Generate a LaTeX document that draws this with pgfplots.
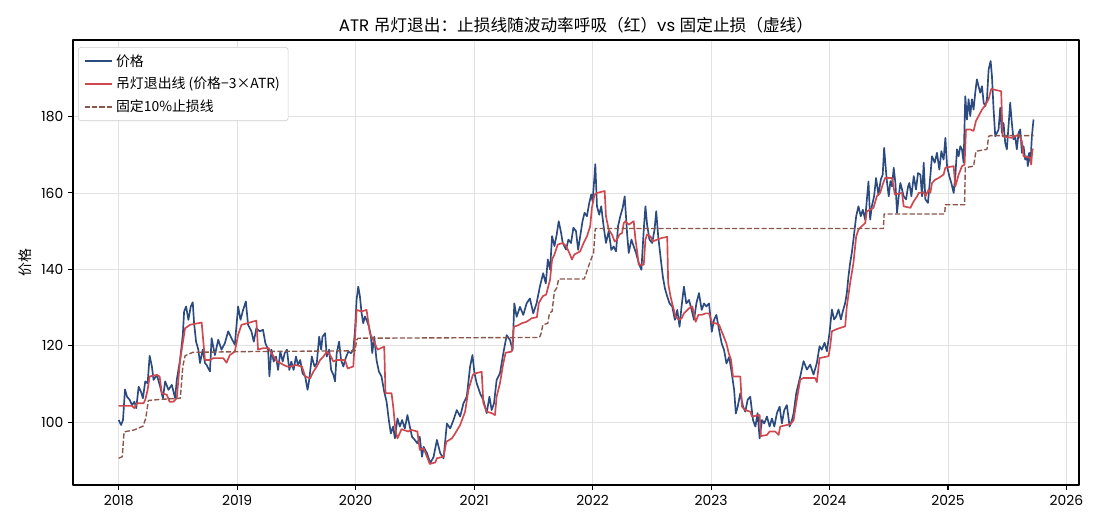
\documentclass[border=0pt]{standalone}
\usepackage{fontspec}
\setmainfont{Poppins}
\newfontfamily\cjk{Noto Sans CJK SC}
\usepackage{pgfplots}
\pgfplotsset{compat=1.18}
\definecolor{pricec}{RGB}{43,74,128}
\definecolor{redc}{RGB}{207,72,78}
\definecolor{brownc}{RGB}{140,86,75}
\definecolor{gridc}{RGB}{226,226,226}
\begin{document}
\begin{tikzpicture}
\begin{axis}[name=ax, scale only axis, width=724.3pt, height=320.4pt,
  xmin=2017.614, xmax=2026.106, ymin=83.6, ymax=200,
  xtick={2018,2019,2020,2021,2022,2023,2024,2025,2026},
  xticklabels={2018,2019,2020,2021,2022,2023,2024,2025,2026},
  ytick={100,120,140,160,180},
  grid=major, major grid style={gridc, line width=0.6pt},
  axis line style={line width=0.8pt},
  tick align=outside, major tick length=3.5pt, xtick pos=left, ytick pos=left,
  tick style={black, line width=0.8pt},
  ticklabel style={font=\fontsize{10}{12}\selectfont},
  /pgf/number format/assume math mode=true,
  title={ATR {\cjk 吊灯退出：止损线随波动率呼吸（红）}vs {\cjk 固定止损（虚线）}},
  title style={font=\fontsize{12}{14}\selectfont, at={(axis description cs:0.5,1)}, anchor=base},
  ylabel={\cjk 价格}, ylabel style={font=\fontsize{10}{12}\selectfont, at={(axis description cs:-0.0477,0.5)}, anchor=center},
  legend style={at={(axis description cs:0.005,0.984)}, anchor=north west, draw=gray!40, rounded corners=2pt,
    font=\fontsize{10}{12}\selectfont, row sep=2.5pt, inner xsep=4pt, inner ysep=3pt},
  legend cell align=left,
  legend image code/.code={\draw[#1] (0pt,0pt) -- (20pt,0pt);},
  line join=round,
]
\addplot[pricec, line width=1.2pt] coordinates {
(2018.000,100.6)(2018.020,99.3)(2018.036,100.6)(2018.053,108.6)(2018.070,106.7)(2018.092,105.9)(2018.112,104.5)(2018.132,105.4)(2018.148,103.7)(2018.168,109.3)(2018.188,108.0)(2018.204,106.3)(2018.224,110.7)(2018.244,110.2)(2018.261,117.4)(2018.280,114.6)(2018.294,111.1)(2018.322,112.4)(2018.350,109.3)(2018.373,106.3)(2018.392,110.7)(2018.420,108.5)(2018.448,109.8)(2018.476,106.3)(2018.490,111.1)(2018.518,116.3)(2018.541,122.9)(2018.552,129.0)(2018.569,130.3)(2018.588,126.8)(2018.608,130.3)(2018.625,131.4)(2018.636,125.9)(2018.653,121.1)(2018.672,119.0)(2018.686,115.5)(2018.709,119.0)(2018.728,115.5)(2018.742,115.0)(2018.770,113.3)(2018.784,122.0)(2018.812,117.6)(2018.840,121.6)(2018.868,119.0)(2018.896,120.7)(2018.924,123.8)(2018.952,122.0)(2018.980,120.3)(2019.008,130.3)(2019.028,126.8)(2019.050,129.4)(2019.073,131.6)(2019.092,125.5)(2019.120,123.8)(2019.140,121.1)(2019.162,124.6)(2019.190,123.8)(2019.218,124.2)(2019.238,120.7)(2019.261,119.0)(2019.272,112.0)(2019.289,119.0)(2019.308,115.9)(2019.328,117.2)(2019.345,113.7)(2019.364,118.5)(2019.384,115.9)(2019.401,118.1)(2019.420,119.0)(2019.440,113.7)(2019.457,115.9)(2019.476,113.7)(2019.496,117.2)(2019.513,115.0)(2019.532,116.3)(2019.552,112.8)(2019.574,112.0)(2019.594,108.5)(2019.608,111.1)(2019.630,117.2)(2019.653,114.6)(2019.672,115.5)(2019.692,122.4)(2019.709,119.0)(2019.720,122.4)(2019.742,123.3)(2019.756,117.2)(2019.776,119.0)(2019.793,113.7)(2019.812,112.4)(2019.826,110.7)(2019.840,118.1)(2019.860,121.1)(2019.877,116.3)(2019.896,114.6)(2019.916,116.8)(2019.938,118.5)(2019.961,118.1)(2019.980,119.0)(2019.994,123.8)(2020.008,132.1)(2020.022,135.5)(2020.036,132.9)(2020.050,128.6)(2020.064,125.9)(2020.078,127.7)(2020.092,126.8)(2020.112,125.1)(2020.129,122.4)(2020.140,118.1)(2020.157,122.4)(2020.176,116.3)(2020.196,113.3)(2020.218,112.0)(2020.241,108.0)(2020.261,105.4)(2020.280,100.6)(2020.297,97.1)(2020.317,98.9)(2020.331,95.8)(2020.353,101.0)(2020.373,98.9)(2020.392,100.6)(2020.415,98.4)(2020.437,101.9)(2020.457,98.9)(2020.476,96.2)(2020.499,95.4)(2020.521,94.5)(2020.541,96.2)(2020.560,91.0)(2020.574,93.6)(2020.602,91.9)(2020.630,89.3)(2020.658,91.0)(2020.686,95.4)(2020.714,91.9)(2020.742,90.6)(2020.770,99.7)(2020.798,98.4)(2020.826,100.6)(2020.854,103.2)(2020.882,101.5)(2020.910,105.0)(2020.938,106.7)(2020.966,114.6)(2020.986,117.6)(2021.003,112.8)(2021.022,110.2)(2021.050,107.6)(2021.078,105.8)(2021.106,102.4)(2021.129,106.7)(2021.148,103.2)(2021.168,105.0)(2021.190,111.1)(2021.218,112.8)(2021.246,118.0)(2021.275,122.8)(2021.303,121.5)(2021.325,118.9)(2021.339,131.1)(2021.359,127.6)(2021.387,130.2)(2021.415,128.1)(2021.443,131.1)(2021.471,132.4)(2021.499,128.5)(2021.527,131.1)(2021.555,135.5)(2021.583,139.0)(2021.605,136.3)(2021.622,142.6)(2021.641,140.0)(2021.658,148.7)(2021.678,146.1)(2021.697,149.1)(2021.714,152.6)(2021.734,149.6)(2021.748,146.9)(2021.776,145.2)(2021.796,147.8)(2021.818,146.9)(2021.838,150.9)(2021.860,150.0)(2021.878,145.1)(2021.895,148.6)(2021.915,152.6)(2021.932,154.8)(2021.952,153.9)(2021.972,157.4)(2021.989,159.6)(2022.000,157.8)(2022.017,164.8)(2022.023,167.5)(2022.037,156.5)(2022.056,154.3)(2022.073,156.5)(2022.093,151.3)(2022.113,146.9)(2022.136,150.0)(2022.158,145.1)(2022.178,146.0)(2022.198,144.7)(2022.215,151.3)(2022.234,153.9)(2022.254,156.1)(2022.271,159.1)(2022.291,149.5)(2022.305,144.3)(2022.328,147.8)(2022.347,146.0)(2022.367,144.3)(2022.390,141.6)(2022.412,139.9)(2022.432,150.4)(2022.446,156.5)(2022.460,151.7)(2022.480,147.8)(2022.503,146.9)(2022.523,150.4)(2022.537,155.2)(2022.554,148.6)(2022.573,143.4)(2022.593,138.1)(2022.610,135.1)(2022.630,132.9)(2022.650,131.1)(2022.672,130.3)(2022.695,126.8)(2022.715,129.4)(2022.734,125.0)(2022.751,130.3)(2022.771,135.5)(2022.791,131.1)(2022.814,132.0)(2022.836,129.4)(2022.856,126.8)(2022.876,131.1)(2022.898,133.8)(2022.921,129.4)(2022.941,131.1)(2022.960,130.3)(2022.983,131.1)(2023.006,123.7)(2023.025,126.8)(2023.045,128.1)(2023.068,124.1)(2023.090,120.6)(2023.110,118.9)(2023.130,115.4)(2023.153,117.1)(2023.175,112.8)(2023.195,108.4)(2023.209,102.3)(2023.225,104.1)(2023.247,107.6)(2023.270,104.1)(2023.289,102.8)(2023.309,105.9)(2023.331,106.7)(2023.354,100.6)(2023.374,98.9)(2023.393,102.4)(2023.410,95.8)(2023.430,100.6)(2023.449,99.7)(2023.472,101.5)(2023.494,98.9)(2023.514,101.0)(2023.534,98.9)(2023.556,102.4)(2023.579,104.1)(2023.598,99.7)(2023.618,103.2)(2023.640,104.5)(2023.663,98.9)(2023.683,100.6)(2023.697,102.4)(2023.719,107.6)(2023.753,112.0)(2023.781,116.0)(2023.809,113.8)(2023.837,115.1)(2023.865,112.5)(2023.893,115.5)(2023.916,119.9)(2023.935,119.0)(2023.958,120.8)(2023.978,118.6)(2024.000,123.4)(2024.020,129.5)(2024.039,126.9)(2024.056,127.7)(2024.076,129.5)(2024.096,126.9)(2024.112,129.0)(2024.132,131.2)(2024.146,133.8)(2024.160,138.2)(2024.174,141.7)(2024.188,144.3)(2024.202,147.8)(2024.225,153.9)(2024.244,156.5)(2024.264,153.9)(2024.281,155.6)(2024.301,153.0)(2024.315,158.2)(2024.329,163.0)(2024.343,153.0)(2024.357,156.5)(2024.376,159.1)(2024.393,163.9)(2024.413,159.5)(2024.433,163.5)(2024.449,164.8)(2024.461,171.8)(2024.478,165.2)(2024.486,162.6)(2024.500,159.1)(2024.514,163.1)(2024.528,161.7)(2024.542,166.6)(2024.556,162.6)(2024.570,154.8)(2024.584,159.1)(2024.598,162.6)(2024.612,160.9)(2024.626,159.1)(2024.646,158.3)(2024.663,161.7)(2024.674,162.6)(2024.691,159.1)(2024.711,164.4)(2024.730,160.9)(2024.747,165.2)(2024.767,164.8)(2024.781,159.1)(2024.795,167.9)(2024.809,158.3)(2024.831,157.4)(2024.851,164.4)(2024.865,169.6)(2024.888,167.9)(2024.907,170.5)(2024.927,166.1)(2024.944,170.9)(2024.963,168.7)(2024.978,174.4)(2024.992,167.0)(2025.011,164.4)(2025.028,162.6)(2025.048,160.0)(2025.062,164.4)(2025.076,171.4)(2025.090,169.6)(2025.104,172.2)(2025.118,171.4)(2025.132,167.9)(2025.146,185.3)(2025.160,179.2)(2025.174,184.5)(2025.188,180.1)(2025.202,184.5)(2025.216,181.8)(2025.230,186.2)(2025.244,189.7)(2025.258,187.9)(2025.272,186.2)(2025.287,187.9)(2025.301,183.6)(2025.315,182.7)(2025.329,184.5)(2025.343,192.3)(2025.360,194.5)(2025.371,190.6)(2025.385,181.8)(2025.399,174.8)(2025.413,175.7)(2025.427,176.6)(2025.441,182.3)(2025.455,175.7)(2025.469,178.3)(2025.483,173.1)(2025.497,171.4)(2025.511,177.5)(2025.525,183.6)(2025.539,178.3)(2025.553,174.0)(2025.567,174.8)(2025.581,171.4)(2025.596,175.7)(2025.610,176.6)(2025.624,170.5)(2025.638,172.2)(2025.652,168.7)(2025.666,169.6)(2025.674,167.0)(2025.685,170.5)(2025.697,168.0)(2025.708,174.8)(2025.722,179.2)
};
\addlegendentry{\cjk 价格}
\addplot[redc, line width=1.2pt] coordinates {
(2018.000,104.3)(2018.112,104.3)(2018.132,103.7)(2018.154,105.0)(2018.210,105.0)(2018.224,105.9)(2018.244,108.5)(2018.261,112.0)(2018.322,112.4)(2018.345,112.0)(2018.364,107.6)(2018.406,107.2)(2018.429,105.4)(2018.462,105.4)(2018.490,106.3)(2018.518,116.3)(2018.560,124.6)(2018.602,125.5)(2018.700,126.1)(2018.728,116.3)(2018.770,116.3)(2018.798,116.8)(2018.882,116.8)(2018.910,115.6)(2018.938,117.6)(2018.980,118.5)(2019.008,122.9)(2019.036,125.5)(2019.106,126.1)(2019.162,126.6)(2019.176,119.0)(2019.218,119.4)(2019.266,119.4)(2019.289,118.1)(2019.308,117.2)(2019.336,115.9)(2019.364,115.5)(2019.392,115.0)(2019.420,114.6)(2019.462,114.6)(2019.490,115.0)(2019.546,114.6)(2019.574,112.0)(2019.616,111.5)(2019.644,113.3)(2019.672,114.6)(2019.700,116.3)(2019.728,117.2)(2019.756,118.5)(2019.784,117.6)(2019.812,115.9)(2019.840,116.3)(2019.910,116.3)(2019.933,114.1)(2019.980,114.6)(2019.994,121.6)(2020.008,129.4)(2020.050,129.0)(2020.092,129.4)(2020.120,123.3)(2020.148,121.6)(2020.185,119.0)(2020.241,119.8)(2020.252,107.6)(2020.303,107.6)(2020.317,104.1)(2020.336,98.0)(2020.353,95.8)(2020.387,98.2)(2020.443,97.6)(2020.471,98.0)(2020.521,97.6)(2020.541,92.8)(2020.574,93.2)(2020.602,91.0)(2020.625,89.1)(2020.672,89.5)(2020.686,90.6)(2020.742,91.0)(2020.765,94.9)(2020.812,95.8)(2020.840,97.1)(2020.882,99.3)(2020.924,102.8)(2020.952,108.5)(2020.989,112.4)(2021.008,112.8)(2021.064,113.2)(2021.078,105.0)(2021.106,102.8)(2021.148,102.4)(2021.176,101.9)(2021.190,106.7)(2021.218,110.2)(2021.246,115.4)(2021.266,118.2)(2021.317,118.5)(2021.336,125.0)(2021.373,125.4)(2021.401,125.9)(2021.443,126.3)(2021.485,127.2)(2021.530,127.5)(2021.546,131.2)(2021.580,133.0)(2021.608,133.4)(2021.641,137.3)(2021.658,142.6)(2021.678,143.9)(2021.706,146.5)(2021.748,146.9)(2021.776,146.1)(2021.804,144.3)(2021.826,142.6)(2021.846,143.9)(2021.895,144.7)(2021.924,146.9)(2021.952,148.6)(2021.980,151.3)(2021.994,156.1)(2022.017,159.6)(2022.037,160.0)(2022.102,160.5)(2022.113,153.9)(2022.136,150.4)(2022.164,149.1)(2022.186,147.3)(2022.206,147.8)(2022.226,149.1)(2022.249,149.5)(2022.263,152.1)(2022.277,152.6)(2022.305,151.7)(2022.347,152.6)(2022.362,147.8)(2022.376,144.7)(2022.390,141.2)(2022.432,141.2)(2022.446,147.8)(2022.460,149.1)(2022.489,148.6)(2022.508,147.3)(2022.545,147.8)(2022.582,148.2)(2022.630,148.5)(2022.638,136.4)(2022.658,132.9)(2022.672,131.1)(2022.701,127.6)(2022.729,126.8)(2022.751,127.2)(2022.771,128.5)(2022.814,129.8)(2022.842,130.3)(2022.870,126.3)(2022.893,128.1)(2022.921,128.1)(2022.955,128.5)(2022.983,128.5)(2023.011,125.9)(2023.040,125.9)(2023.068,125.5)(2023.096,123.3)(2023.129,120.7)(2023.149,118.1)(2023.169,116.3)(2023.185,112.0)(2023.247,112.0)(2023.261,104.1)(2023.289,103.2)(2023.331,102.8)(2023.346,101.5)(2023.410,101.9)(2023.421,96.4)(2023.472,96.7)(2023.494,97.6)(2023.542,97.6)(2023.570,96.7)(2023.584,98.9)(2023.640,99.3)(2023.674,99.6)(2023.697,100.6)(2023.719,105.0)(2023.753,111.2)(2023.781,111.6)(2023.879,111.6)(2023.893,110.5)(2023.916,116.8)(2023.992,117.3)(2024.006,119.9)(2024.020,123.8)(2024.062,124.4)(2024.132,125.1)(2024.146,130.3)(2024.174,136.4)(2024.202,141.7)(2024.225,148.6)(2024.244,150.4)(2024.272,151.3)(2024.301,152.1)(2024.315,155.2)(2024.343,155.6)(2024.371,156.1)(2024.399,159.1)(2024.427,160.0)(2024.449,162.2)(2024.469,163.9)(2024.528,163.9)(2024.551,159.6)(2024.612,160.0)(2024.626,156.5)(2024.683,156.1)(2024.711,157.8)(2024.739,159.1)(2024.753,160.0)(2024.795,160.2)(2024.809,159.1)(2024.837,160.9)(2024.851,160.0)(2024.865,162.6)(2024.893,163.5)(2024.921,163.9)(2024.963,164.8)(2024.978,166.6)(2025.048,167.0)(2025.062,161.7)(2025.090,164.8)(2025.118,167.0)(2025.140,167.4)(2025.152,176.6)(2025.188,176.6)(2025.216,176.2)(2025.236,178.8)(2025.258,180.1)(2025.287,181.8)(2025.309,182.7)(2025.343,184.5)(2025.365,187.2)(2025.449,186.6)(2025.461,174.8)(2025.539,174.4)(2025.567,174.8)(2025.596,175.3)(2025.624,173.5)(2025.638,169.6)(2025.694,169.2)(2025.702,167.4)(2025.713,171.4)(2025.722,171.4)
};
\addlegendentry{\cjk 吊灯退出线 (价格{−}3×ATR)}
\addplot[brownc, line width=1pt, dash pattern=on 3.7pt off 1.6pt] coordinates {
(2018.000,90.6)(2018.030,91.0)(2018.045,97.5)(2018.130,98.0)(2018.205,99.0)(2018.228,101.0)(2018.250,105.7)(2018.350,106.0)(2018.520,106.3)(2018.541,114.6)(2018.560,117.4)(2018.625,118.3)(2019.073,118.5)(2019.995,118.7)(2020.008,121.5)(2020.022,122.0)(2021.552,122.2)(2021.566,123.3)(2021.580,125.5)(2021.622,125.9)(2021.636,128.6)(2021.658,129.0)(2021.678,134.3)(2021.697,135.1)(2021.714,137.5)(2021.930,137.5)(2021.952,139.5)(2021.980,142.1)(2022.008,144.3)(2022.023,150.7)(2024.455,150.7)(2024.461,154.5)(2024.972,154.5)(2024.978,156.9)(2025.140,156.9)(2025.146,166.6)(2025.216,167.0)(2025.236,170.9)(2025.329,171.4)(2025.343,174.8)(2025.360,175.0)(2025.722,175.0)
};
\addlegendentry{\cjk 固定10\%止损线}
\end{axis}
\pgfresetboundingbox
\path ([shift={(-52.56pt,-30.96pt)}]ax.south west) rectangle ([shift={(15.12pt,28.8pt)}]ax.north east);
\end{tikzpicture}
\end{document}
